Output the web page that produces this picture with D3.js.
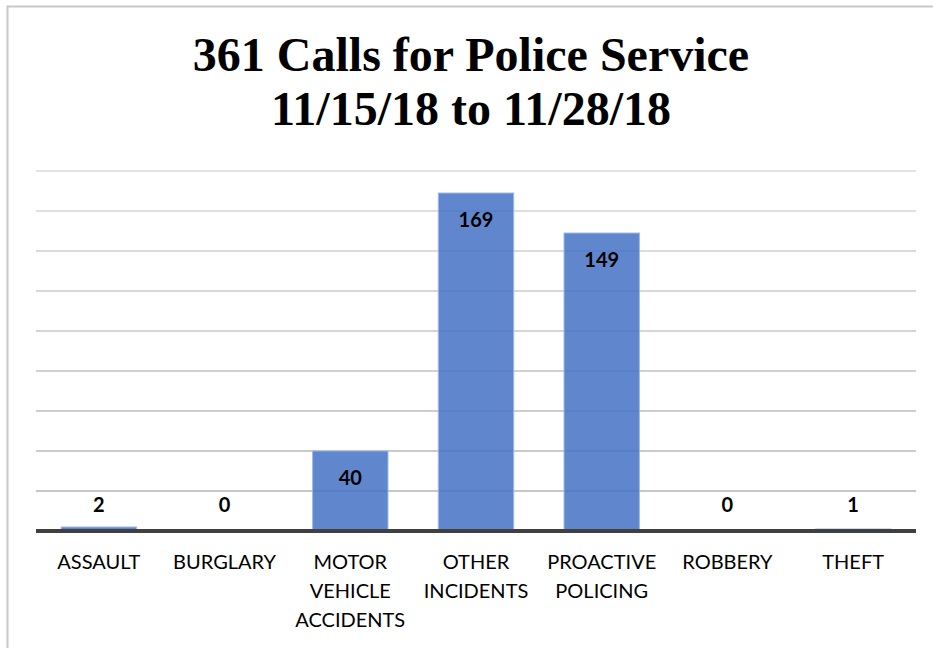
<!DOCTYPE html>
<html>
<head>
<meta charset="utf-8">
<script src="https://cdn.jsdelivr.net/npm/d3@7"></script>
<style>
  body { margin: 0; background: #fff; }
  svg { display: block; }
</style>
</head>
<body>
<svg id="grafico" width="933" height="648"></svg>
<script>
// Datos
var categorias = [["ASSAULT"], ["BURGLARY"], ["MOTOR", "VEHICLE", "ACCIDENTS"], ["OTHER", "INCIDENTS"], ["PROACTIVE", "POLICING"], ["ROBBERY"], ["THEFT"]];
var llamadas = [2, 0, 40, 169, 149, 0, 1];
var titulo = ["361 Calls for Police Service", "11/15/18 to 11/28/18"];
var marcas = [0, 20, 40, 60, 80, 100, 120, 140, 160, 180];

var ancho = 933, alto = 648;
var margen = {izq: 36, der: 17, arriba: 171, abajo: 117};

var svg = d3.select("#grafico");

// Marco del gráfico
svg.append("rect")
    .attr("x", 7.5).attr("y", 6.5)
    .attr("width", ancho + 20).attr("height", alto + 20)
    .attr("fill", "none")
    .attr("stroke", "#c8c8c8")
    .attr("stroke-width", 2);

// Título
svg.append("text")
    .attr("x", 471)
    .attr("text-anchor", "middle")
    .style("font-family", "'Liberation Serif', 'Times New Roman', serif")
    .style("font-weight", "bold")
    .style("font-size", "48px")
    .selectAll("tspan")
    .data(titulo)
    .enter()
    .append("tspan")
    .attr("x", 471)
    .attr("y", (d, i) => 71 + i * 54)
    .text(d => d);

var x = d3.scaleBand()
    .domain(d3.range(categorias.length))
    .range([margen.izq, ancho - margen.der])
    .paddingInner(0.4)
    .paddingOuter(0.2);

var y = d3.scaleLinear()
    .domain([0, 180])
    .range([alto - margen.abajo, margen.arriba]);

// Rejilla
var color_rejilla = d3.scaleLinear().domain([0, 180]).range(["#c4c4c4", "#e2e2e2"]);
svg.append("g")
    .selectAll("line")
    .data(marcas.slice(1))
    .enter()
    .append("line")
    .attr("x1", margen.izq)
    .attr("x2", ancho - margen.der)
    .attr("y1", d => y(d))
    .attr("y2", d => y(d))
    .attr("stroke", d => color_rejilla(d))
    .attr("stroke-width", 2);

// Barras
svg.append("g")
    .selectAll("rect")
    .data(llamadas)
    .enter()
    .append("rect")
    .attr("x", (d, i) => x(i))
    .attr("y", d => y(d))
    .attr("width", x.bandwidth())
    .attr("height", d => y(0) - y(d))
    .attr("fill", "#4472c4")
    .attr("fill-opacity", 0.85)
    .attr("stroke", "#9dbbe8")
    .attr("stroke-width", 1);

// Eje base
svg.append("line")
    .attr("x1", margen.izq)
    .attr("x2", ancho - margen.der)
    .attr("y1", y(0))
    .attr("y2", y(0))
    .attr("stroke", "#404040")
    .attr("stroke-width", 4);

// Etiquetas de valor
svg.append("g")
    .selectAll("text")
    .data(llamadas)
    .enter()
    .append("text")
    .attr("x", (d, i) => x(i) + x.bandwidth() / 2)
    .attr("y", d => Math.min(y(d) + 34, y(0) - 19))
    .attr("text-anchor", "middle")
    .style("font-family", "Lato, 'Open Sans', sans-serif")
    .style("font-weight", "bold")
    .style("font-size", "20px")
    .style("fill", "#000")
    .text(d => d);

// Etiquetas de categoría
svg.append("g")
    .selectAll("text")
    .data(categorias)
    .enter()
    .append("text")
    .attr("text-anchor", "middle")
    .style("font-family", "Lato, 'Open Sans', sans-serif")
    .style("font-size", "20px")
    .style("fill", "#000")
    .each(function(d, i){
        d3.select(this).selectAll("tspan")
            .data(d)
            .enter()
            .append("tspan")
            .attr("x", x(i) + x.bandwidth() / 2)
            .attr("y", (t, j) => 569 + j * 29)
            .text(t => t);
    });
</script>
</body>
</html>
